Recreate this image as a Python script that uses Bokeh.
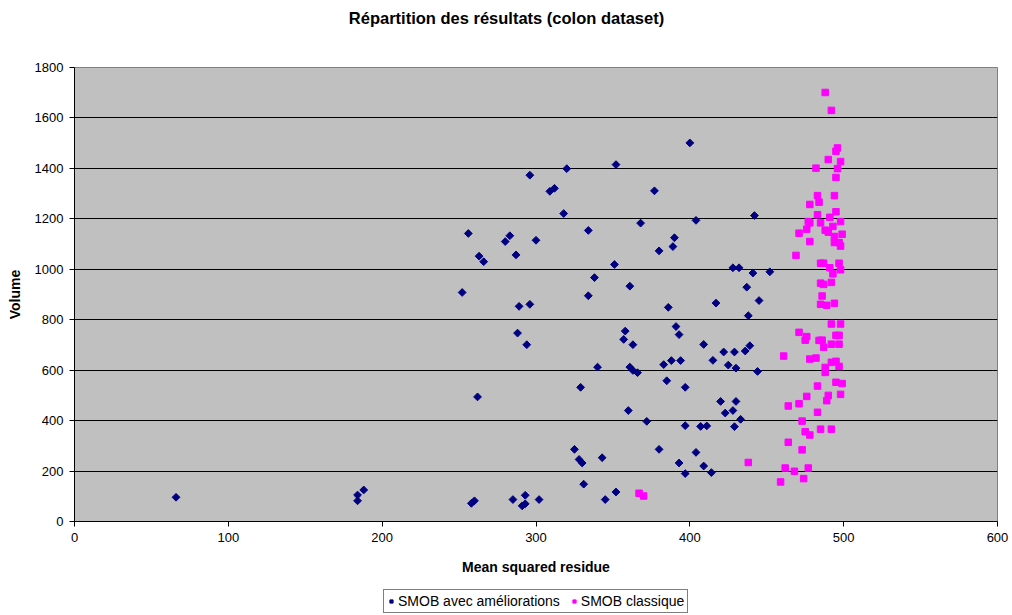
from bokeh.plotting import figure
from bokeh.models import Range1d, Legend, LegendItem, FixedTicker
from bokeh.layouts import column
from bokeh.core.properties import value
from bokeh.embed import file_html
from bokeh.resources import INLINE
import math

title_text = "Répartition des résultats (colon dataset)"
x_label = "Mean squared residue"
y_label = "Volume"
series_names = ["SMOB avec améliorations", "SMOB classique"]
x_ticks = [0, 100, 200, 300, 400, 500, 600]
y_ticks = [0, 200, 400, 600, 800, 1000, 1200, 1400, 1600, 1800]

# SMOB avec améliorations (blue diamonds)
blue_x = [66, 184, 184, 188, 296, 320, 309, 312, 318, 256, 280, 283, 300, 263, 266, 287,
          252, 289, 296, 288, 294, 262, 329, 325, 328, 258, 260, 285, 293, 291, 293, 302,
          400, 352, 377, 404, 368, 334, 390, 389, 380, 351, 338, 361, 334, 386, 358, 391,
          357, 393, 363, 340, 361, 363, 366, 383, 388, 394, 385, 397, 360, 372, 397, 407,
          411, 330, 343, 380, 404, 393, 397, 331, 352, 345, 442, 428, 432, 441, 452, 437,
          445, 417, 438, 409, 422, 429, 436, 439, 415, 425, 430, 444, 420, 430, 423, 428,
          433, 429, 409, 414]
blue_y = [96, 105, 82, 125, 1373, 1399, 1309, 1321, 1221, 1142, 1110, 1133, 1115, 1052, 1030, 1057,
          908, 853, 861, 747, 701, 494, 532, 286, 246, 72, 82, 87, 104, 62, 70, 87,
          1501, 1415, 1311, 1194, 1183, 1154, 1125, 1090, 1073, 1019, 967, 933, 895, 849, 755, 773,
          722, 741, 701, 612, 612, 599, 590, 622, 638, 638, 558, 532, 440, 397, 380, 377,
          379, 232, 253, 286, 274, 232, 190, 148, 117, 87, 1213, 1006, 1006, 985, 990, 929,
          876, 866, 816, 702, 672, 672, 676, 697, 639, 620, 608, 595, 476, 476, 430, 440,
          405, 376, 220, 194]

# SMOB classique (magenta squares)
pink_x = [367, 370, 488, 492, 496, 495, 490, 498, 496, 482, 495, 494, 483, 484, 478, 495,
          483, 491, 498, 477, 478, 485, 493, 476, 488, 490, 471, 494, 499, 478, 494, 497,
          498, 469, 485, 487, 491, 497, 498, 493, 485, 487, 492, 486, 485, 489, 494, 492,
          498, 471, 476, 475, 484, 486, 495, 497, 492, 497, 487, 461, 478, 482, 492, 495,
          497, 488, 488, 495, 499, 483, 476, 490, 498, 489, 471, 464, 483, 473, 485, 492,
          475, 478, 464, 473, 438, 462, 468, 477, 459, 474]
pink_y = [112, 101, 1701, 1630, 1481, 1468, 1435, 1427, 1399, 1401, 1364, 1292, 1292, 1266, 1257, 1228,
          1216, 1206, 1189, 1189, 1184, 1184, 1170, 1159, 1155, 1147, 1143, 1130, 1139, 1110, 1106, 1106,
          1092, 1055, 1024, 1024, 1006, 1024, 998, 982, 945, 940, 948, 894, 861, 857, 865, 783,
          783, 750, 733, 719, 718, 719, 738, 738, 703, 703, 691, 656, 644, 648, 631, 635,
          615, 611, 591, 552, 547, 537, 496, 500, 504, 479, 467, 458, 433, 398, 366, 366,
          356, 343, 314, 284, 234, 212, 199, 212, 157, 170]

FONT = "Liberation Sans"
BLUE = "#000080"
PINK = "#FF00FF"
W = 1012
LEFT, RIGHT = 74, 15


def strip(height):
    f = figure(width=W, height=height, output_backend="svg", toolbar_location=None,
               x_range=Range1d(0, 1), y_range=Range1d(0, 1),
               x_axis_type=None, y_axis_type=None,
               min_border_left=LEFT, min_border_right=RIGHT,
               min_border_top=0, min_border_bottom=0,
               background_fill_color="white", border_fill_color="white")
    f.outline_line_color = None
    f.grid.visible = False
    return f


# title strip
p0 = strip(34)
title_x = (W / 2 - LEFT) / (W - LEFT - RIGHT)
p0.text(x=[title_x], y=[0.5], text=[title_text], text_align="center", text_baseline="middle",
        text_font=value(FONT), text_font_size="16.5px", text_font_style="bold", text_color="black")

# main chart
p = figure(width=W, height=551, output_backend="svg", toolbar_location=None,
           x_range=Range1d(0, 600), y_range=Range1d(0, 1800),
           min_border_left=LEFT, min_border_right=RIGHT, min_border_top=33, min_border_bottom=64,
           background_fill_color="#C0C0C0", border_fill_color="white")

p.outline_line_color = "#808080"
p.outline_line_width = 1

p.xgrid.visible = False
p.ygrid.ticker = FixedTicker(ticks=y_ticks)
p.ygrid.grid_line_color = "black"
p.ygrid.grid_line_width = 1

for ax in (p.xaxis[0], p.yaxis[0]):
    ax.axis_line_color = "black"
    ax.major_tick_line_color = "black"
    ax.major_tick_out = 5
    ax.major_tick_in = 0
    ax.minor_tick_out = 0
    ax.minor_tick_in = 0
    ax.major_label_text_font = FONT
    ax.major_label_text_font_size = "13px"
    ax.major_label_text_color = "black"
    ax.axis_label_text_font = FONT
    ax.axis_label_text_font_size = "14px"
    ax.axis_label_text_font_style = "bold"
    ax.axis_label_text_color = "black"

p.xaxis[0].ticker = FixedTicker(ticks=x_ticks)
p.yaxis[0].ticker = FixedTicker(ticks=y_ticks)
p.xaxis[0].axis_label = x_label
p.yaxis[0].axis_label = y_label
p.xaxis[0].major_label_standoff = 6
p.xaxis[0].axis_label_standoff = 14
p.yaxis[0].major_label_standoff = 6
p.yaxis[0].axis_label_standoff = 9

p.scatter(blue_x, blue_y, marker="square", size=5.5, angle=math.pi / 4,
          fill_color=BLUE, line_color=BLUE)
p.scatter(pink_x, pink_y, marker="square", size=6.5,
          fill_color=PINK, line_color=PINK)

# legend strip below the chart
p2 = strip(30)
lr1 = p2.scatter([-5], [-5], marker="square", size=5.5, angle=math.pi / 4,
                 fill_color=BLUE, line_color=BLUE)
lr2 = p2.scatter([-5], [-5], marker="square", size=6.5,
                 fill_color=PINK, line_color=PINK)

legend = Legend(items=[LegendItem(label=series_names[0], renderers=[lr1]),
                       LegendItem(label=series_names[1], renderers=[lr2])],
                orientation="horizontal", location=(383 - LEFT, 2),
                border_line_color="black", border_line_width=1,
                background_fill_color="white", background_fill_alpha=1,
                label_text_font=FONT, label_text_font_size="14px",
                label_text_color="black",
                glyph_width=8, glyph_height=10, label_standoff=3,
                spacing=10, padding=3, margin=0)
p2.add_layout(legend, "center")

layout = column(p0, p, p2, spacing=0)
open("out.html", "w").write(file_html(layout, INLINE))
